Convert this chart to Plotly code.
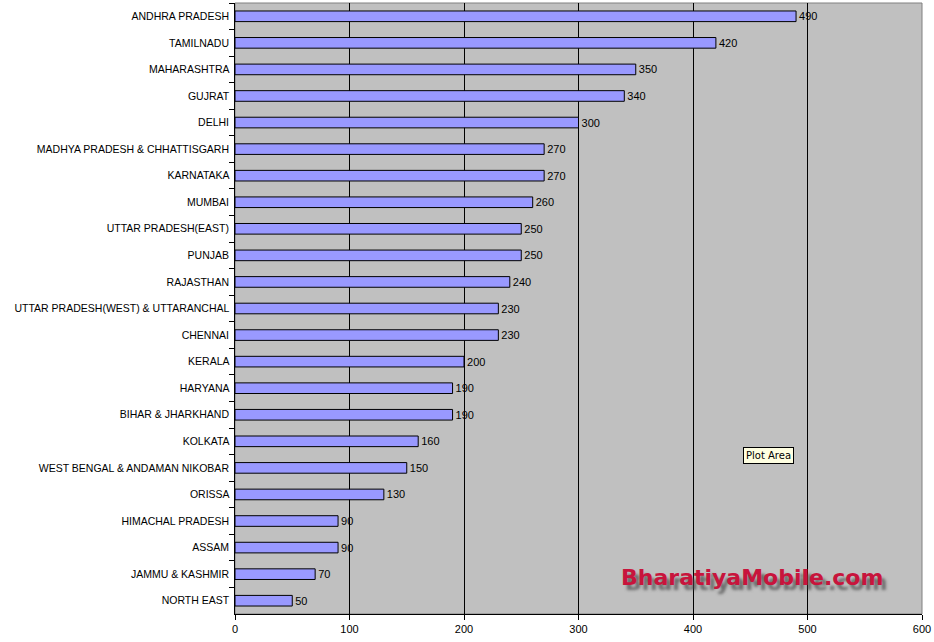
import plotly.graph_objects as go

regions = ["ANDHRA PRADESH", "TAMILNADU", "MAHARASHTRA", "GUJRAT", "DELHI",
           "MADHYA PRADESH & CHHATTISGARH", "KARNATAKA", "MUMBAI", "UTTAR PRADESH(EAST)",
           "PUNJAB", "RAJASTHAN", "UTTAR PRADESH(WEST) & UTTARANCHAL", "CHENNAI", "KERALA",
           "HARYANA", "BIHAR & JHARKHAND", "KOLKATA", "WEST BENGAL & ANDAMAN NIKOBAR",
           "ORISSA", "HIMACHAL PRADESH", "ASSAM", "JAMMU & KASHMIR", "NORTH EAST"]
values = [490, 420, 350, 340, 300, 270, 270, 260, 250, 250, 240, 230, 230, 200,
          190, 190, 160, 150, 130, 90, 90, 70, 50]
x_ticks = [0, 100, 200, 300, 400, 500, 600]

font = "Liberation Sans, Arial, sans-serif"

fig = go.Figure(go.Bar(
    y=regions, x=values, orientation="h", width=0.4,
    marker=dict(color="#9999FF", line=dict(color="black", width=1)),
    text=[str(v) for v in values], textposition="outside",
    textfont=dict(family=font, size=11, color="black"),
    constraintext="none",
    cliponaxis=False,
))

fig.update_layout(
    width=934, height=642,
    margin=dict(l=235, r=12, t=3, b=28),
    paper_bgcolor="white", plot_bgcolor="#C0C0C0",
    showlegend=False,
    font=dict(family=font, size=11, color="black"),
    bargap=0.6,
)
fig.update_xaxes(
    range=[0, 600], tickvals=x_ticks, ticktext=[str(t) for t in x_ticks],
    showgrid=True, gridcolor="black", gridwidth=1,
    showline=True, linecolor="black", linewidth=1,
    ticks="outside", ticklen=5, tickcolor="black",
    zeroline=False, tickfont=dict(size=11),
)
fig.update_yaxes(
    categoryorder="array", categoryarray=regions, autorange="reversed",
    showgrid=False, showline=True, linecolor="black", linewidth=1,
    ticks="outside", ticklen=5, tickcolor="black", tickson="boundaries",
    ticksuffix=" ", tickfont=dict(size=10.5),
)
fig.add_shape(type="rect", xref="paper", yref="paper", x0=0, x1=1, y0=0, y1=1,
              line=dict(color="#808080", width=1), layer="below")

wm_font = "DejaVu Sans, Verdana, sans-serif"
# watermark with drop shadow
fig.add_annotation(xref="paper", yref="paper", x=0.752, y=0.059,
                   xanchor="center", yanchor="middle",
                   text="<b>BharatiyaMobile.com</b>", showarrow=False,
                   font=dict(family=wm_font, size=22, color="#C8143C",
                             shadow="4px 5px 3px rgba(70,70,70,0.7)"))
# tooltip box
fig.add_annotation(xref="paper", yref="paper", x=0.777, y=0.26,
                   xanchor="center", yanchor="middle",
                   text="Plot Area", showarrow=False,
                   bgcolor="#FFFFE1", bordercolor="black", borderwidth=1, borderpad=2,
                   font=dict(family="DejaVu Sans, sans-serif", size=10, color="black"))

fig.write_html("out.html")
